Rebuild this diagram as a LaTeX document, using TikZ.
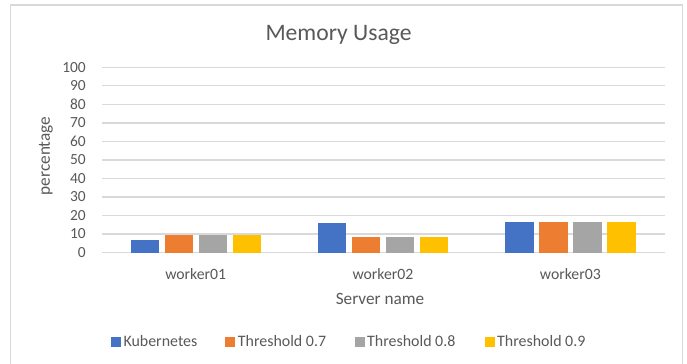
\documentclass[tikz,border=0pt]{standalone}
\usepackage{fontspec}
\setmainfont{Carlito}
\definecolor{kubblue}{HTML}{4472C4}
\definecolor{thorange}{HTML}{ED7D31}
\definecolor{thgray}{HTML}{A5A5A5}
\definecolor{thyellow}{HTML}{FFC000}
\definecolor{labelgray}{HTML}{595959}
\definecolor{linegray}{HTML}{D9D9D9}
\begin{document}
\begin{tikzpicture}[x=1bp,y=-1bp,
  frame/.style={draw=linegray,line width=1.3bp},
  gridline/.style={draw=linegray,line width=1.3bp},
  ticklabel/.style={text=labelgray,inner sep=0pt,anchor=east,font=\fontsize{15.5}{18}\selectfont},
  catlabel/.style={text=labelgray,inner sep=0pt,anchor=base,font=\fontsize{15.8}{18}\selectfont},
  axistitle/.style={text=labelgray,inner sep=0pt,font=\fontsize{17.3}{20}\selectfont},
  charttitle/.style={text=labelgray,inner sep=0pt,anchor=base,font=\fontsize{23.7}{28}\selectfont},
  legendtext/.style={text=labelgray,inner sep=0pt,anchor=base west,font=\fontsize{16}{19}\selectfont},
  legendkey/.style={minimum size=10bp,inner sep=0pt,anchor=west},
  kub/.style={fill=kubblue},
  tha/.style={fill=thorange},
  thb/.style={fill=thgray},
  thc/.style={fill=thyellow}]
\useasboundingbox (0,0) rectangle (687,363);
\fill[white] (0,0) rectangle (687,363);

% chart area border (open at the bottom edge)
\draw[frame] (10.5,363.5) -- (10.5,5) -- (682.5,5) -- (682.5,363.5);

% title
\node[charttitle] (title) at (338.5,40.7) {Memory Usage};

% value grid and tick labels
\foreach \v in {0,10,...,100} {
  \pgfmathsetmacro\yy{252.5-1.852*\v}
  \draw[gridline] (102,\yy) -- (665,\yy);
  \node[ticklabel] (tick\v) at (86,\yy) {\v};
}

% bars: one group of four per server
\foreach \i/\a/\b/\c/\d/\name in {1/7/9.6/9.6/9.6/worker01,
                                   2/16.2/8.4/8.4/8.4/worker02,
                                   3/16.6/16.6/16.6/16.6/worker03} {
  \pgfmathsetmacro\cx{102+187.33*(\i-0.5)}
  \fill[kub] ({\cx-65},252.5) rectangle ({\cx-36.8},{252.5-1.852*\a});
  \fill[tha] ({\cx-31},252.5) rectangle ({\cx-2.8},{252.5-1.852*\b});
  \fill[thb] ({\cx+3},252.5) rectangle ({\cx+31.2},{252.5-1.852*\c});
  \fill[thc] ({\cx+37},252.5) rectangle ({\cx+65.2},{252.5-1.852*\d});
  \node[catlabel] (cat\i) at (\cx,279) {\name};
}

% axis titles
\node[axistitle,anchor=base] (xtitle) at (380,304.5) {Server name};
\node[axistitle,rotate=90] (ytitle) at (46,156) {percentage};

% legend
\node[legendkey,kub] (key1) at (111,342.2) {};
\node[legendtext] (leg1) at (123.3,346.7) {Kubernetes};
\node[legendkey,tha] (key2) at (225,342.2) {};
\node[legendtext] (leg2) at (237.7,346.7) {Threshold 0.7};
\node[legendkey,thb] (key3) at (354.3,342.2) {};
\node[legendtext] (leg3) at (367,346.7) {Threshold 0.8};
\node[legendkey,thc] (key4) at (484.3,342.2) {};
\node[legendtext] (leg4) at (497,346.7) {Threshold 0.9};
\end{tikzpicture}
\end{document}
